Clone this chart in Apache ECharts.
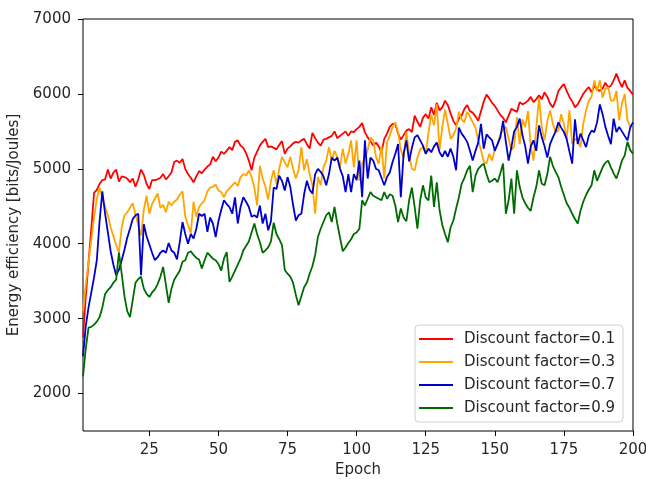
<!DOCTYPE html>
<html>
<head>
<meta charset="utf-8">
<script src="https://cdn.jsdelivr.net/npm/echarts@6/dist/echarts.min.js"></script>
<style>
  html, body { margin: 0; padding: 0; background: #fff; }
  #chart { width: 646px; height: 479px; }
</style>
</head>
<body>
<div id="chart"></div>
<script>
// Energy efficiency per training epoch for four discount factors.
const seriesNames = ['Discount factor=0.1', 'Discount factor=0.3', 'Discount factor=0.7', 'Discount factor=0.9'];
const xTicks = [25, 50, 75, 100, 125, 150, 175, 200];
const yTicks = [2000, 3000, 4000, 5000, 6000, 7000];

const gamma01 = [
  2750, 3300, 3750, 4200, 4680, 4720, 4800, 4850, 4860, 4990,
  4870, 4950, 4990, 4830, 4900, 4890, 4870, 4820, 4870, 4760,
  4860, 4990, 4920, 4800, 4730, 4850, 4850, 4860, 4880, 4930,
  4860, 4900, 4950, 5090, 5110, 5080, 5130, 5000, 4930, 4880,
  4820, 4900, 4970, 4940, 4990, 5030, 5060, 5160, 5100, 5150,
  5230, 5200, 5240, 5290, 5250, 5360, 5380, 5310, 5280, 5210,
  5110, 4980, 5150, 5230, 5310, 5360, 5400, 5290, 5300, 5280,
  5260, 5320, 5370, 5200, 5270, 5300, 5340, 5360, 5350, 5380,
  5400, 5330, 5270, 5480, 5410, 5350, 5310, 5390, 5400, 5420,
  5440, 5500, 5410, 5440, 5470, 5500, 5440, 5500, 5490, 5530,
  5560, 5610, 5490, 5420, 5370, 5310, 5350, 5300, 5220, 5400,
  5470, 5560, 5600, 5600, 5470, 5390, 5450, 5510, 5530, 5490,
  5710, 5630, 5560, 5680, 5730, 5670, 5820, 5720, 5880, 5780,
  5820, 5910, 5850, 5740, 5640, 5580, 5670, 5710, 5800, 5850,
  5770, 5750, 5700, 5640, 5770, 5900, 5990, 5940, 5880, 5840,
  5780, 5720, 5680, 5620, 5710, 5800, 5780, 5760, 5890, 5860,
  5880, 5910, 5960, 5890, 5930, 5980, 5930, 6020, 5960, 5870,
  5820, 5910, 6040, 6090, 6130, 6040, 5960, 5900, 5820, 5860,
  5930, 6000, 6050, 6090, 6020, 6110, 6060, 6040, 6070, 6150,
  6090, 6110, 6180, 6270, 6170, 6090, 6180, 6080, 6040, 5990
];

const gamma03 = [
  3100, 3450, 3750, 4050, 4350, 4600, 4750, 4620, 4490, 4380,
  4220, 4100, 3980, 3880, 4220, 4380, 4420, 4480, 4540, 4390,
  4250, 4110, 4450, 4640, 4400, 4530, 4600, 4670, 4480, 4520,
  4420, 4560, 4510, 4560, 4590, 4650, 4700, 4360, 4250, 4140,
  4560, 4360, 4490, 4540, 4580, 4700, 4750, 4760, 4790, 4710,
  4690, 4620, 4700, 4740, 4780, 4820, 4770, 4890, 4930, 4910,
  4980, 4890, 4750, 4510, 5040, 4870, 4760, 4590, 4840, 4980,
  4800, 5000, 5160, 5090, 5020, 5160, 5000, 4870, 4980, 5290,
  4980, 5130, 4930, 4780, 4400, 4890, 4780, 5020, 5110, 5290,
  5110, 5240, 5160, 5020, 5270, 5070, 5200, 5380, 5020, 5380,
  4840, 5070, 5150, 5250, 5420, 5380, 5160, 5070, 5310, 4870,
  5360, 5440, 5560, 5620, 5490, 5250, 5150, 5490, 5200, 5000,
  4980, 5150, 5260, 5290, 5200, 5480, 5720, 5580, 5860, 5250,
  5560, 5790, 5600, 5400, 5450, 5540, 5760, 5660, 5620, 5760,
  5700, 5620, 5550, 5380, 5250, 5100, 5070, 5200, 5110, 5260,
  5330, 5460, 5520, 5560, 5400, 5250, 5300, 5690, 5330, 5660,
  5560, 5770, 5300, 5110, 5550, 5950, 5550, 5380, 5640, 5780,
  5600, 5490, 5510, 5730, 5600, 5400, 5780, 5330, 5400, 5380,
  5290, 5600, 5780, 5910, 5960, 6180, 6040, 6180, 5950, 6070,
  6090, 5910, 5910, 6040, 5650, 5870, 6000, 5650, 5560, 5600
];

const gamma07 = [
  2500, 2900, 3150, 3350, 3550, 3780, 4300, 4700, 4400, 4150,
  3900, 3720, 3580, 3650, 3780, 3920, 4080, 4200, 4330, 4380,
  4400, 3580, 4260, 4100, 3990, 3880, 3780, 3820, 3880, 3910,
  3880, 4010, 3910, 3880, 3790, 4020, 4290, 4130, 4000, 4130,
  4070, 4200, 4400, 4370, 4400, 4160, 4350, 4270, 4090, 4300,
  4450, 4580, 4530, 4490, 4400, 4620, 4270, 4490, 4620, 4560,
  4490, 4360, 4380, 4350, 4510, 4270, 4400, 4180, 4300, 4750,
  4730, 4910, 4840, 4710, 4890, 4760, 4520, 4310, 4380, 4400,
  4660, 4840, 4720, 4670, 4930, 5000, 4960, 4900, 4780, 4930,
  5150, 5110, 5150, 5000, 4900, 4690, 4930, 4690, 4930, 4850,
  5110, 4620, 5380, 4870, 5150, 5110, 5000, 4980, 4880, 4780,
  4890, 4950, 5090, 5200, 5330, 4620, 5200, 5380, 5100, 5280,
  5420, 5450, 5380, 5310, 5200, 5270, 5220, 5300, 5350, 5220,
  5160, 5240, 5160, 5270, 5160, 4980, 5550, 5470, 5420, 5360,
  5240, 5110, 5240, 5350, 5600, 5270, 5460, 5420, 5380, 5240,
  5330, 5420, 5640, 5360, 5110, 5290, 5500, 5560, 5670, 5450,
  5300, 5070, 5300, 5380, 5240, 5580, 5420, 5300, 5150, 5330,
  5420, 5500, 5620, 5550, 5490, 5400, 5230, 5070, 5660, 5330,
  5470, 5380, 5290, 5440, 5510, 5490, 5620, 5860, 5730, 5560,
  5440, 5330, 5670, 5490, 5560, 5500, 5440, 5380, 5550, 5620
];

const gamma09 = [
  2230, 2600, 2880, 2890, 2920, 2960, 3020, 3150, 3330, 3380,
  3420, 3480, 3520, 3880, 3600, 3300, 3100, 3020, 3250, 3480,
  3530, 3560, 3400, 3330, 3290, 3350, 3390, 3460, 3560, 3690,
  3450, 3210, 3400, 3520, 3580, 3640, 3760, 3780, 3880, 3900,
  3850, 3810, 3790, 3670, 3780, 3880, 3840, 3800, 3780, 3730,
  3640, 3800, 3890, 3490, 3560, 3640, 3720, 3800, 3910, 3970,
  4030, 4150, 4270, 4130, 4020, 3880, 3910, 3950, 4030, 4280,
  4130, 4060, 3980, 3650, 3600, 3560, 3480, 3320, 3180, 3300,
  3420, 3480, 3600, 3700, 3850, 4090, 4200, 4290, 4380, 4420,
  4290, 4490, 4270, 4080, 3900, 3950, 4010, 4060, 4130, 4150,
  4200, 4580, 4510, 4600, 4690, 4640, 4620, 4600, 4580, 4690,
  4600, 4660, 4640, 4510, 4290, 4470, 4350, 4300, 4580, 4750,
  4490, 4200, 4580, 4780, 4620, 4580, 4910, 4490, 4820, 4450,
  4250, 4130, 4020, 4220, 4310, 4470, 4620, 4800, 4880, 4980,
  5040, 4690, 4910, 5000, 5040, 5070, 4930, 4820, 4840, 4870,
  4820, 4940, 5070, 4400, 4580, 4870, 4400, 4980, 4760, 4620,
  4540, 4480, 4440, 4620, 4760, 4980, 4800, 4780, 4930, 5160,
  5040, 4960, 4890, 4760, 4650, 4540, 4480, 4400, 4330, 4270,
  4440, 4560, 4650, 4720, 4780, 4980, 4840, 4930, 5020, 5080,
  5110, 5020, 4940, 4870, 4980, 5110, 5180, 5360, 5250, 5200
];

const lineColors = ['#ff0000', '#ffa500', '#0000cd', '#006b00'];
const allValues = [gamma01, gamma03, gamma07, gamma09];

// epochs are numbered from 1
const toPoints = vals => vals.map((v, i) => [i + 1, v]);

const FONT = 'DejaVu Sans';
const TEXT = '#262626';
const chart = echarts.init(document.getElementById('chart'), null, { renderer: 'canvas' });

chart.setOption({
  animation: false,
  backgroundColor: '#ffffff',
  textStyle: { fontFamily: FONT },
  grid: {
    left: 83, right: 13, top: 19, bottom: 48,
    outerBoundsMode: 'none', containLabel: false,
    show: true, borderColor: '#000', borderWidth: 1, backgroundColor: 'transparent'
  },
  xAxis: {
    type: 'value', min: 1, max: 200,
    name: 'Epoch', nameLocation: 'middle', nameGap: 32,
    nameTextStyle: { fontFamily: FONT, fontSize: 15, color: TEXT },
    axisLine: { show: false },
    splitLine: { show: false },
    axisTick: { show: true, length: 5, lineStyle: { color: '#000' }, customValues: xTicks },
    axisLabel: { fontFamily: FONT, fontSize: 15, color: TEXT, margin: 12, customValues: xTicks,
                 formatter: v => String(v) }
  },
  yAxis: {
    type: 'value', min: 1500, max: 7000,
    name: 'Energy efficiency [bits/Joules]', nameLocation: 'middle', nameGap: 55,
    nameTextStyle: { fontFamily: FONT, fontSize: 15, color: TEXT },
    axisLine: { show: false },
    splitLine: { show: false },
    axisTick: { show: true, length: 5, lineStyle: { color: '#000' }, customValues: yTicks },
    axisLabel: { fontFamily: FONT, fontSize: 15, color: TEXT, margin: 12, customValues: yTicks,
                 formatter: v => String(v) }
  },
  legend: {
    orient: 'vertical',
    left: 415, top: 325,
    padding: [5, 8, 5, 4],
    backgroundColor: '#fff',
    borderColor: '#d0d0d0', borderWidth: 1, borderRadius: 4,
    itemWidth: 34, itemHeight: 2, itemGap: 5,
    icon: 'rect',
    textStyle: { fontFamily: FONT, fontSize: 15, color: TEXT, lineHeight: 18, padding: [0, 0, 0, 6] },
    data: seriesNames
  },
  series: allValues.map((vals, k) => ({
    name: seriesNames[k],
    type: 'line',
    data: toPoints(vals),
    showSymbol: false,
    symbol: 'none',
    color: lineColors[k],
    lineStyle: { width: 1.8, color: lineColors[k] }
  }))
});
</script>
</body>
</html>
